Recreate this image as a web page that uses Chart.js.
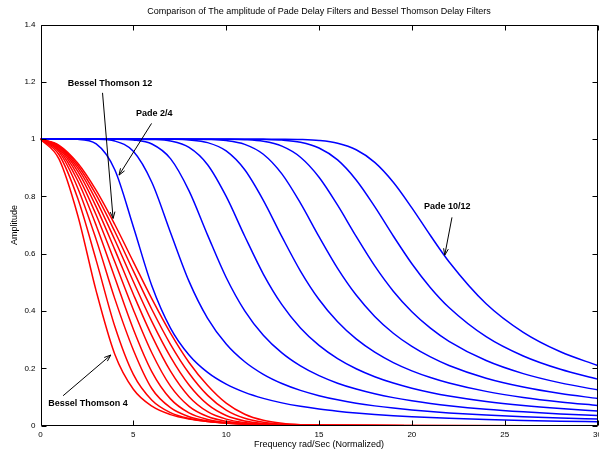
<!DOCTYPE html>
<html>
<head>
<meta charset="utf-8">
<script src="https://cdn.jsdelivr.net/npm/chart.js@4"></script>
<style>
  html, body { margin: 0; padding: 0; background: #fff; overflow: hidden; }
  #wrap { width: 606px; height: 452px; }
</style>
</head>
<body>
<div id="wrap"><canvas id="myChart"></canvas></div>
<script>
// frequency points (rad/sec, normalized)
const besselFreq = [0, 1, 2, 3, 4, 5, 6, 7, 8, 9, 10, 11, 12, 13, 14, 16, 20, 30];
const padeFreq = [0, 1, 2, 3, 4, 5, 6, 7, 8, 9, 10, 11, 12, 13, 14, 15, 16, 17, 18, 19, 20, 21, 22, 24, 26, 28, 30];

// Bessel Thomson amplitude, order 4 .. 12
const bessel4  = [1, 0.930, 0.7355, 0.4696, 0.2494, 0.1272, 0.0679, 0.0387, 0.0234, 0.0149, 0.0099, 0.0069, 0.0049, 0.0036, 0.0027, 0.0016, 0.0007, 0.0001];
const bessel5  = [1, 0.9455, 0.7942, 0.5769, 0.3470, 0.1790, 0.0889, 0.0457, 0.0249, 0.0143, 0.0087, 0.0055, 0.0036, 0.0025, 0.0017, 0.0008, 0.0003, 0];
const bessel6  = [1, 0.9554, 0.8305, 0.6493, 0.4434, 0.2644, 0.1290, 0.0628, 0.0314, 0.0165, 0.0091, 0.0053, 0.0032, 0.0020, 0.0013, 0.0005, 0.0001, 0];
const bessel7  = [1, 0.9621, 0.8555, 0.6988, 0.5171, 0.3367, 0.1879, 0.0936, 0.0447, 0.0219, 0.0112, 0.0061, 0.0034, 0.0019, 0.0011, 0.0004, 0, 0];
const bessel8  = [1, 0.9671, 0.8739, 0.7353, 0.5718, 0.4048, 0.2537, 0.1380, 0.0675, 0.0319, 0.0153, 0.0077, 0.0040, 0.0021, 0.0012, 0.0004, 0, 0];
const bessel9  = [1, 0.9710, 0.8882, 0.7636, 0.6144, 0.4589, 0.3132, 0.1902, 0.1013, 0.0490, 0.0229, 0.0109, 0.0053, 0.0026, 0.0013, 0.0004, 0, 0];
const bessel10 = [1, 0.9740, 0.8995, 0.7864, 0.6490, 0.5030, 0.3631, 0.2401, 0.1420, 0.0743, 0.0356, 0.0165, 0.0077, 0.0036, 0.0017, 0.0005, 0, 0];
const bessel11 = [1, 0.9765, 0.9087, 0.8051, 0.6777, 0.5401, 0.4055, 0.2842, 0.1830, 0.1058, 0.0545, 0.0259, 0.0119, 0.0053, 0.0024, 0.0006, 0, 0];
const bessel12 = [1, 0.9785, 0.9164, 0.8208, 0.7020, 0.5719, 0.4423, 0.3230, 0.2206, 0.1400, 0.0786, 0.0400, 0.0188, 0.0085, 0.0037, 0.0008, 0, 0];

// Pade delay amplitude, 2/4 .. 10/12
const pade2_4   = [1, 1, 0.9992, 0.9834, 0.8932, 0.6943, 0.4875, 0.3408, 0.2468, 0.1859, 0.1449, 0.1162, 0.0954, 0.0797, 0.0677, 0.0582, 0.0507, 0.0445, 0.0394, 0.0351, 0.0315, 0.0285, 0.0258, 0.0216, 0.0183, 0.0157, 0.0136];
const pade3_5   = [1, 1, 1, 0.9995, 0.9934, 0.9574, 0.8486, 0.6743, 0.5036, 0.3746, 0.2851, 0.2231, 0.1792, 0.1472, 0.1232, 0.1048, 0.0903, 0.0786, 0.0692, 0.0614, 0.0548, 0.0493, 0.0446, 0.0370, 0.0312, 0.0267, 0.0231];
const pade4_6   = [1, 1, 1, 1, 1, 0.9973, 0.9831, 0.9320, 0.8195, 0.6651, 0.5173, 0.4009, 0.3157, 0.2539, 0.2086, 0.1745, 0.1483, 0.1278, 0.1114, 0.0980, 0.0870, 0.0778, 0.0700, 0.0576, 0.0484, 0.0412, 0.0355];
const pade5_7   = [1, 1, 1, 1, 1, 1, 0.9989, 0.9933, 0.9710, 0.9106, 0.8000, 0.6611, 0.5292, 0.4223, 0.3410, 0.2801, 0.2341, 0.1987, 0.1709, 0.1488, 0.1309, 0.1162, 0.1039, 0.0847, 0.0705, 0.0597, 0.0512];
const pade6_8   = [1, 1, 1, 1, 1, 1, 1, 0.9996, 0.9973, 0.9879, 0.9588, 0.8930, 0.7864, 0.6596, 0.5397, 0.4403, 0.3626, 0.3028, 0.2565, 0.2203, 0.1915, 0.1682, 0.1491, 0.1198, 0.0987, 0.0830, 0.0708];
const pade7_9   = [1, 1, 1, 1, 1, 1, 1, 1, 1, 0.9989, 0.9950, 0.9818, 0.9473, 0.8787, 0.7766, 0.6597, 0.5491, 0.4559, 0.3814, 0.3227, 0.2766, 0.2399, 0.2102, 0.1657, 0.1349, 0.1123, 0.0950];
const pade8_10  = [1, 1, 1, 1, 1, 1, 1, 1, 1, 1, 0.9996, 0.9980, 0.9922, 0.9754, 0.9368, 0.8671, 0.7695, 0.6605, 0.5576, 0.4695, 0.3978, 0.3405, 0.2946, 0.2273, 0.1817, 0.1494, 0.1251];
const pade9_11  = [1, 1, 1, 1, 1, 1, 1, 1, 1, 1, 1, 1, 0.9992, 0.9967, 0.9889, 0.9690, 0.9274, 0.8575, 0.7642, 0.6619, 0.5652, 0.4817, 0.4125, 0.3107, 0.2432, 0.1967, 0.1626];
const pade10_12 = [1, 1, 1, 1, 1, 1, 1, 1, 1, 1, 1, 1, 1, 0.9997, 0.9986, 0.9951, 0.9855, 0.9628, 0.9189, 0.8496, 0.7602, 0.6637, 0.5723, 0.4255, 0.3258, 0.2579, 0.2102];

const besselSeries = [bessel4, bessel5, bessel6, bessel7, bessel8, bessel9, bessel10, bessel11, bessel12];
const padeSeries = [pade2_4, pade3_5, pade4_6, pade5_7, pade6_8, pade7_9, pade8_10, pade9_11, pade10_12];

// text labels with arrows, in data units
const notes = [
  { text: "Bessel Thomson 12", at: [3.74, 1.195], from: [3.34, 1.1615], to: [3.91, 0.7234] },
  { text: "Pade 2/4", at: [6.13, 1.091], from: [5.98, 1.0548], to: [4.23, 0.8744] },
  { text: "Pade 10/12", at: [21.91, 0.766], from: [22.16, 0.727], to: [21.77, 0.595] },
  { text: "Bessel Thomson 4", at: [2.56, 0.0774], from: [1.217, 0.1046], to: [3.786, 0.2466] }
];

const FONT = "'Liberation Sans', Arial, Helvetica, sans-serif";

function toPoints(xs, ys) {
  return xs.map((x, i) => ({ x: x, y: ys[i] }));
}

const datasets = [];
// red drawn on top -> listed first
besselSeries.forEach((s) => {
  datasets.push({ data: toPoints(besselFreq, s), borderColor: "#ff0000" });
});
padeSeries.forEach((s) => {
  datasets.push({ data: toPoints(padeFreq, s), borderColor: "#0000ff" });
});

// box around the plot + inward ticks
const boxPlugin = {
  id: "box",
  afterDraw(chart) {
    const { ctx, chartArea: a, scales } = chart;
    const L = Math.round(a.left) + 0.5, R = Math.round(a.right) - 0.5;
    const T = Math.round(a.top) + 0.5, B = Math.round(a.bottom) - 0.5;
    ctx.save();
    ctx.strokeStyle = "#000";
    ctx.lineWidth = 1;
    ctx.beginPath();
    ctx.rect(L, T, R - L, B - T);
    scales.x.ticks.forEach((t) => {
      const px = Math.round(scales.x.getPixelForValue(t.value)) + 0.5;
      ctx.moveTo(px, B); ctx.lineTo(px, B - 5);
      ctx.moveTo(px, T); ctx.lineTo(px, T + 5);
    });
    scales.y.ticks.forEach((t) => {
      const py = Math.round(scales.y.getPixelForValue(t.value)) + 0.5;
      ctx.moveTo(L, py); ctx.lineTo(L + 5, py);
      ctx.moveTo(R, py); ctx.lineTo(R - 5, py);
    });
    ctx.stroke();
    ctx.restore();
  }
};

const notePlugin = {
  id: "notes",
  afterDatasetsDraw(chart) {
    const { ctx, scales: { x, y } } = chart;
    ctx.save();
    ctx.fillStyle = "#000";
    ctx.strokeStyle = "#000";
    ctx.lineWidth = 1;
    ctx.font = "bold 9px " + FONT;
    ctx.textAlign = "center";
    ctx.textBaseline = "middle";
    notes.forEach((n) => {
      ctx.fillText(n.text, x.getPixelForValue(n.at[0]), y.getPixelForValue(n.at[1]));
      const x1 = x.getPixelForValue(n.from[0]), y1 = y.getPixelForValue(n.from[1]);
      const x2 = x.getPixelForValue(n.to[0]), y2 = y.getPixelForValue(n.to[1]);
      const ang = Math.atan2(y2 - y1, x2 - x1);
      ctx.beginPath();
      ctx.moveTo(x1, y1);
      ctx.lineTo(x2, y2);
      ctx.moveTo(x2 - 7 * Math.cos(ang - 0.35), y2 - 7 * Math.sin(ang - 0.35));
      ctx.lineTo(x2, y2);
      ctx.lineTo(x2 - 7 * Math.cos(ang + 0.35), y2 - 7 * Math.sin(ang + 0.35));
      ctx.stroke();
    });
    ctx.restore();
  }
};

const ctx = document.getElementById("myChart").getContext("2d");
const myChart = new Chart(ctx, {
  type: "line",
  data: { datasets: datasets },
  options: {
    responsive: true,
    maintainAspectRatio: false,
    animation: false,
    devicePixelRatio: 1,
    events: [],
    elements: {
      point: { radius: 0 },
      line: { borderWidth: 1.5, cubicInterpolationMode: "monotone", fill: false }
    },
    layout: { padding: 0 },
    plugins: {
      legend: { display: false },
      tooltip: { enabled: false },
      title: {
        display: true,
        fullSize: false,
        text: "Comparison of The amplitude of Pade Delay Filters and Bessel Thomson Delay Filters",
        color: "#000",
        font: { family: FONT, size: 9, weight: "normal" },
        padding: { top: 6, bottom: 7.7 }
      }
    },
    scales: {
      x: {
        type: "linear",
        min: 0,
        max: 30,
        grid: { display: false, drawTicks: false },
        border: { display: false },
        ticks: {
          stepSize: 5,
          padding: 4,
          color: "#000",
          maxRotation: 0,
          font: { family: FONT, size: 8 }
        },
        title: {
          display: true,
          text: "Frequency rad/Sec (Normalized)",
          color: "#000",
          font: { family: FONT, size: 9 },
          padding: { top: 0, bottom: 2.4 }
        },
        afterFit(scale) { scale.height = 26.3; }
      },
      y: {
        min: 0,
        max: 1.4,
        grid: { display: false, drawTicks: false },
        border: { display: false },
        ticks: {
          stepSize: 0.2,
          padding: 5,
          color: "#000",
          font: { family: FONT, size: 8 },
          callback: (v) => String(+Number(v).toFixed(1))
        },
        title: {
          display: true,
          text: "Amplitude",
          color: "#000",
          font: { family: FONT, size: 9 },
          padding: { top: 9.6, bottom: 0 }
        },
        afterFit(scale) { scale.width = 40.5; }
      }
    }
  },
  plugins: [boxPlugin, notePlugin]
});
</script>
</body>
</html>
